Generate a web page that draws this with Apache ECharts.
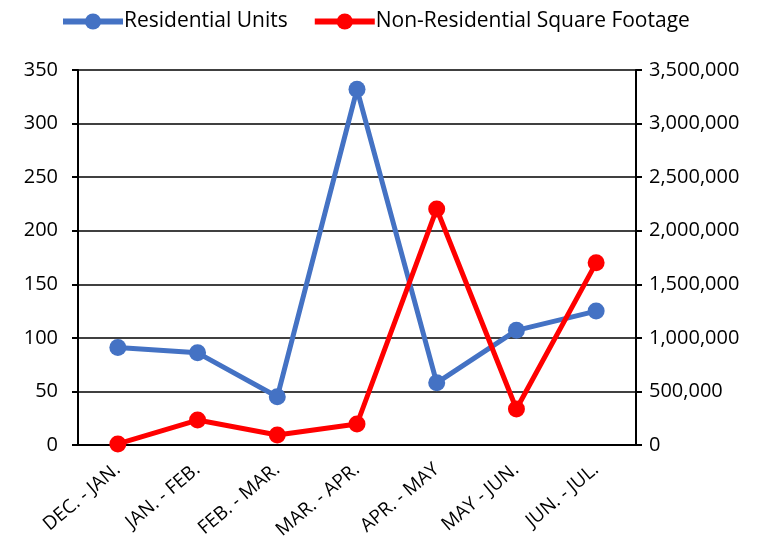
<!DOCTYPE html>
<html>
<head>
<meta charset="utf-8">
<script src="https://cdn.jsdelivr.net/npm/echarts@6/dist/echarts.min.js"></script>
<style>
  html, body { margin: 0; padding: 0; background: #fff; }
  #chart { width: 783px; height: 543px; }
</style>
</head>
<body>
<div id="chart"></div>
<script>
const categories = ['DEC. - JAN.', 'JAN. - FEB.', 'FEB. - MAR.', 'MAR. - APR.', 'APR. - MAY', 'MAY - JUN.', 'JUN. - JUL.'];
const residentialUnits = [91, 86, 45, 332, 58, 107, 125];
const nonResidentialSqFt = [10000, 233000, 93000, 196000, 2203000, 336000, 1700000];

const font = '"Open Sans", sans-serif';
const chart = echarts.init(document.getElementById('chart'));

const option = {
  animation: false,
  textStyle: { fontFamily: font, color: '#000' },
  legend: {
    top: 6,
    left: 55,
    itemWidth: 60,
    itemHeight: 20,
    itemGap: 24,
    textStyle: { fontSize: 21, fontFamily: font, color: '#000', padding: [0, 0, 0, -4] },
    lineStyle: { width: 6 },
    data: ['Residential Units', 'Non-Residential Square Footage'],
  },
  grid: { left: 78, right: 147, top: 70, bottom: 98 },
  xAxis: {
    type: 'category',
    data: categories,
    boundaryGap: true,
    axisLine: { lineStyle: { color: '#000', width: 2 } },
    axisTick: { alignWithLabel: true, length: 7, lineStyle: { color: '#000', width: 2 } },
    axisLabel: { rotate: 40, fontSize: 19, color: '#000', fontFamily: font, margin: 22 },
  },
  yAxis: [
    {
      type: 'value',
      min: 0, max: 350, interval: 50,
      axisLine: { show: true, lineStyle: { color: '#000', width: 2 } },
      axisTick: { show: true, length: 6, lineStyle: { color: '#000', width: 2 } },
      axisLabel: { fontSize: 20, color: '#000', fontFamily: font, margin: 20 },
      splitLine: { lineStyle: { color: '#000', width: 1.5 } },
    },
    {
      type: 'value',
      min: 0, max: 3500000, interval: 500000,
      position: 'right',
      axisLine: { show: true, lineStyle: { color: '#000', width: 2 } },
      axisTick: { show: true, length: 6, lineStyle: { color: '#000', width: 2 } },
      axisLabel: {
        fontSize: 20, color: '#000', fontFamily: font, margin: 13,
        formatter: (v) => v.toLocaleString('en-US'),
      },
      splitLine: { show: false },
    },
  ],
  series: [
    {
      name: 'Residential Units',
      type: 'line',
      yAxisIndex: 0,
      data: residentialUnits,
      color: '#4472c4',
      symbol: 'circle',
      symbolSize: 17,
      lineStyle: { width: 5, color: '#4472c4' },
      itemStyle: { color: '#4472c4' },
    },
    {
      name: 'Non-Residential Square Footage',
      type: 'line',
      yAxisIndex: 1,
      data: nonResidentialSqFt,
      color: '#ff0000',
      symbol: 'circle',
      symbolSize: 17,
      lineStyle: { width: 5, color: '#ff0000' },
      itemStyle: { color: '#ff0000' },
    },
  ],
};

chart.setOption(option);
</script>
</body>
</html>
